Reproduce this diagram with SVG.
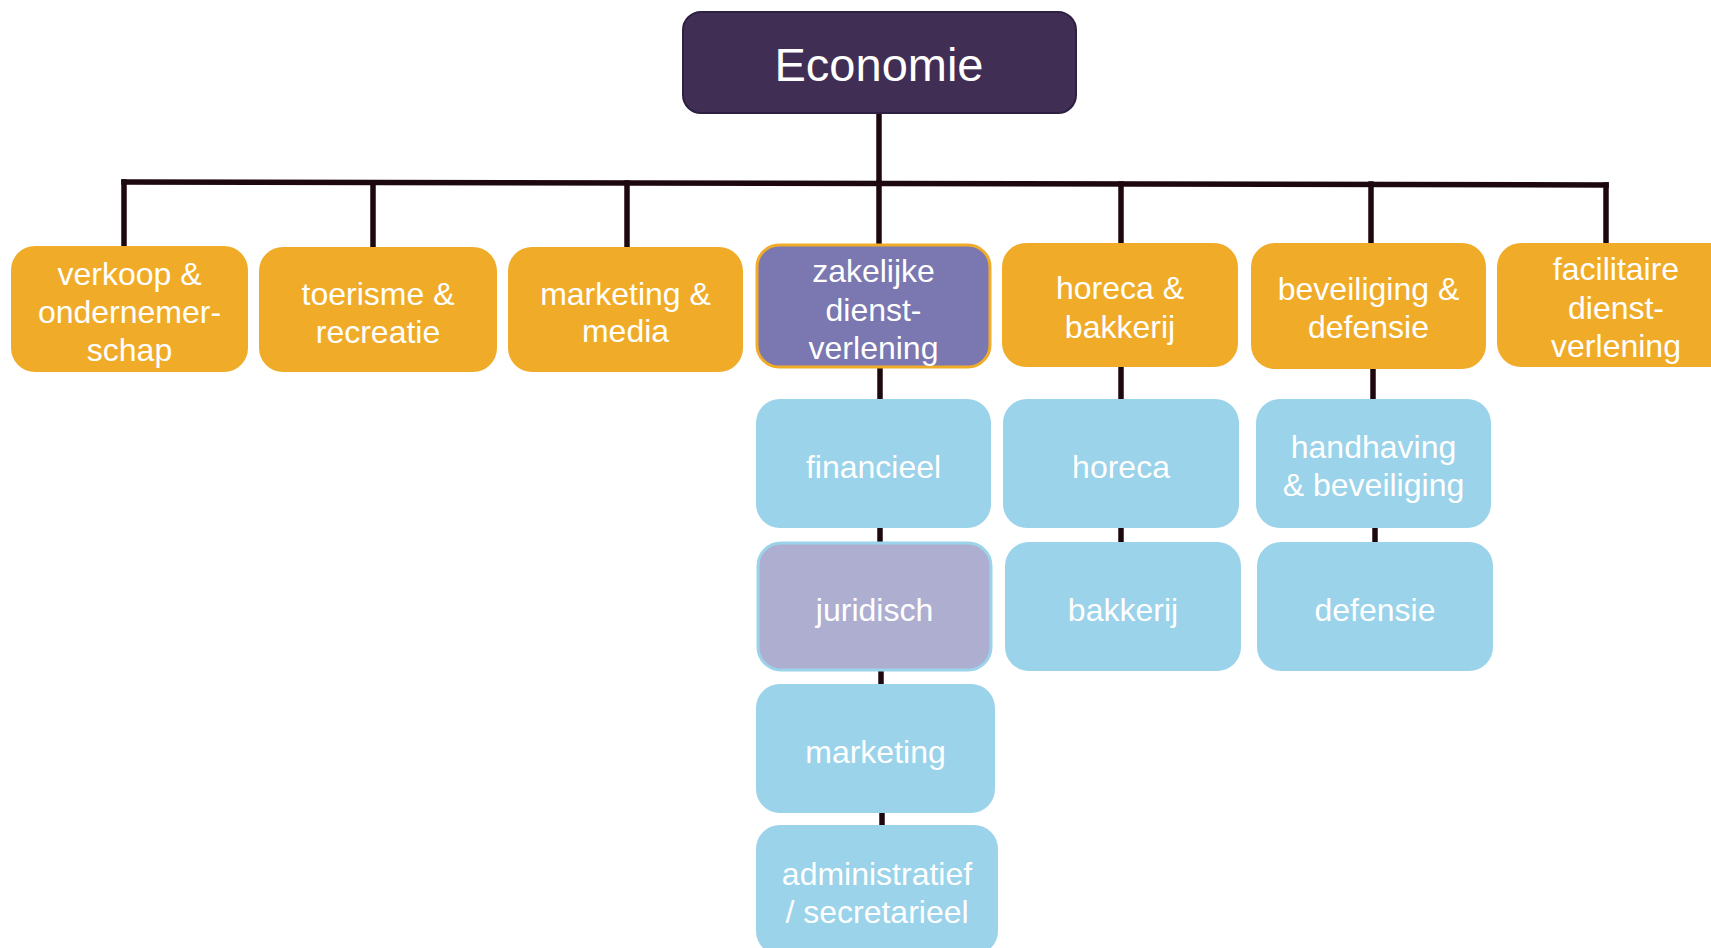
<svg xmlns="http://www.w3.org/2000/svg" width="1711" height="948" viewBox="0 0 1711 948">
<style>
.t{font-family:"Liberation Sans",Arial,sans-serif;fill:#ffffff;text-anchor:middle;font-size:32px}
.top{font-family:"Liberation Sans",Arial,sans-serif;fill:#ffffff;text-anchor:middle;font-size:47px}
.or{fill:#F0AC29}
.bl{fill:#9AD3EA}
.ln{stroke:#1E0810;stroke-width:5.5;fill:none;stroke-linecap:square}
</style>
<rect width="1711" height="948" fill="#ffffff"/>
<g id="connectors">
<path class="ln" d="M879 113 V183"/>
<path class="ln" d="M124 182 L1606 185"/>
<path class="ln" d="M124 182 V246"/>
<path class="ln" d="M373 183 V247"/>
<path class="ln" d="M627 183 V247"/>
<path class="ln" d="M879 183 V245"/>
<path class="ln" d="M1121 184 V243"/>
<path class="ln" d="M1371 184 V243"/>
<path class="ln" d="M1606 185 V243"/>
<path class="ln" d="M880 368 V399"/>
<path class="ln" d="M880 528 V542"/>
<path class="ln" d="M881 671 V684"/>
<path class="ln" d="M882 813 V825"/>
<path class="ln" d="M1121 367 V399"/>
<path class="ln" d="M1121 528 V542"/>
<path class="ln" d="M1373 369 V399"/>
<path class="ln" d="M1375 528 V542"/>
</g>
<g id="economie">
<rect x="683" y="12" width="393" height="101" rx="18" fill="#412E55" stroke="#2E2040" stroke-width="2"/>
<text class="top" x="879" y="81">Economie</text>
</g>
<g id="verkoop">
<rect class="or" x="11" y="246" width="237" height="126" rx="24"/>
<text class="t" x="129.5" y="285">verkoop &amp;</text>
<text class="t" x="129.5" y="323">ondernemer-</text>
<text class="t" x="129.5" y="361">schap</text>
</g>
<g id="toerisme">
<rect class="or" x="259" y="247" width="238" height="125" rx="24"/>
<text class="t" x="378" y="305">toerisme &amp;</text>
<text class="t" x="378" y="343">recreatie</text>
</g>
<g id="marketing-media">
<rect class="or" x="508" y="247" width="235" height="125" rx="24"/>
<text class="t" x="625.5" y="305">marketing &amp;</text>
<text class="t" x="625.5" y="342">media</text>
</g>
<g id="zakelijke">
<rect x="757" y="245" width="233" height="122" rx="22" fill="#7A77B1" stroke="#F0AC29" stroke-width="3"/>
<text class="t" x="873.5" y="282">zakelijke</text>
<text class="t" x="873.5" y="321">dienst-</text>
<text class="t" x="873.5" y="359">verlening</text>
</g>
<g id="horeca-bakkerij">
<rect class="or" x="1002" y="243" width="236" height="124" rx="24"/>
<text class="t" x="1120" y="299">horeca &amp;</text>
<text class="t" x="1120" y="338">bakkerij</text>
</g>
<g id="beveiliging-defensie">
<rect class="or" x="1251" y="243" width="235" height="126" rx="24"/>
<text class="t" x="1368.5" y="300">beveiliging &amp;</text>
<text class="t" x="1368.5" y="338">defensie</text>
</g>
<g id="facilitaire">
<rect class="or" x="1497" y="243" width="238" height="124" rx="24"/>
<text class="t" x="1616" y="280">facilitaire</text>
<text class="t" x="1616" y="319">dienst-</text>
<text class="t" x="1616" y="357">verlening</text>
</g>
<g id="financieel">
<rect class="bl" x="756" y="399" width="235" height="129" rx="24"/>
<text class="t" x="873.5" y="478">financieel</text>
</g>
<g id="juridisch">
<rect x="758" y="543" width="233" height="127" rx="23" fill="#AEAED0" stroke="#9AD3EA" stroke-width="3"/>
<text class="t" x="874.5" y="621">juridisch</text>
</g>
<g id="marketing">
<rect class="bl" x="756" y="684" width="239" height="129" rx="24"/>
<text class="t" x="875.5" y="763">marketing</text>
</g>
<g id="administratief">
<rect class="bl" x="756" y="825" width="242" height="130" rx="24"/>
<text class="t" x="877" y="885">administratief</text>
<text class="t" x="877" y="923">/ secretarieel</text>
</g>
<g id="horeca">
<rect class="bl" x="1003" y="399" width="236" height="129" rx="24"/>
<text class="t" x="1121" y="478">horeca</text>
</g>
<g id="bakkerij">
<rect class="bl" x="1005" y="542" width="236" height="129" rx="24"/>
<text class="t" x="1123" y="621">bakkerij</text>
</g>
<g id="handhaving">
<rect class="bl" x="1256" y="399" width="235" height="129" rx="24"/>
<text class="t" x="1373.5" y="458">handhaving</text>
<text class="t" x="1373.5" y="496">&amp; beveiliging</text>
</g>
<g id="defensie">
<rect class="bl" x="1257" y="542" width="236" height="129" rx="24"/>
<text class="t" x="1375" y="621">defensie</text>
</g>
</svg>
